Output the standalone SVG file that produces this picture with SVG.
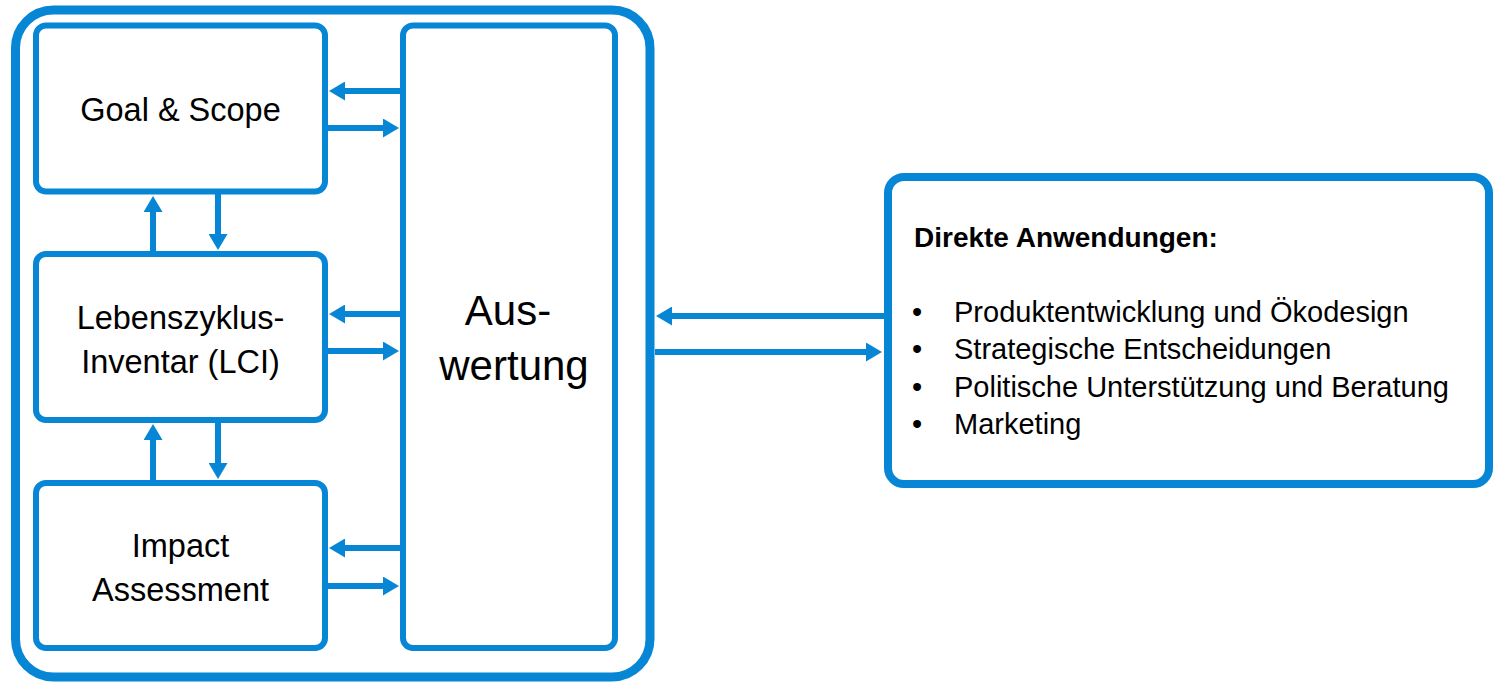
<svg xmlns="http://www.w3.org/2000/svg" width="1493" height="682" viewBox="0 0 1493 682">
<style>
.box{fill:#fff;stroke:#0786D5;stroke-width:6}
.outer{fill:none;stroke:#0786D5;stroke-width:9}
.rbox{fill:#fff;stroke:#0786D5;stroke-width:8}
.con{stroke:#0786D5;stroke-width:6;fill:none;marker-end:url(#ah)}
.t{font-family:"Liberation Sans",Arial,sans-serif;fill:#000}
.m{text-anchor:middle;font-size:32.5px}
.big{text-anchor:middle;font-size:42px}
.h{font-size:28px;font-weight:bold}
.b{font-size:29px}
</style>
<defs>
<marker id="ah" markerUnits="userSpaceOnUse" markerWidth="16" markerHeight="19" refX="1" refY="9.5" orient="auto" viewBox="0 0 16 19">
<path d="M0,0 L16,9.5 L0,19 Z" fill="#0786D5"/>
</marker>
</defs>
<rect id="frame" class="outer" x="15.5" y="10" width="634.5" height="667" rx="38"/>
<g id="goal"><rect class="box" x="36" y="25.5" width="289" height="166" rx="10"/>
<text class="t m" x="180.5" y="121">Goal &amp; Scope</text></g>
<g id="lci"><rect class="box" x="36" y="254" width="289" height="166" rx="10"/>
<text class="t m" x="180.5" y="329">Lebenszyklus-</text>
<text class="t m" x="180.5" y="373">Inventar (LCI)</text></g>
<g id="impact"><rect class="box" x="36" y="483" width="289" height="165" rx="10"/>
<text class="t m" x="180.5" y="557">Impact</text>
<text class="t m" x="180.5" y="601">Assessment</text></g>
<g id="auswertung"><rect class="box" x="403" y="25.5" width="212" height="622.5" rx="10"/>
<text class="t big" x="508" y="325">Aus-</text>
<text class="t big" x="514" y="380">wertung</text></g>
<g id="anwendungen"><rect class="rbox" x="888" y="177" width="601" height="307" rx="16"/>
<text class="t h" x="914" y="247">Direkte Anwendungen:</text>
<g class="t b">
<text x="912" y="322">•</text><text x="954" y="322">Produktentwicklung und Ökodesign</text>
<text x="912" y="359">•</text><text x="954" y="359">Strategische Entscheidungen</text>
<text x="912" y="397">•</text><text x="954" y="397">Politische Unterstützung und Beratung</text>
<text x="912" y="434">•</text><text x="954" y="434">Marketing</text>
</g></g>
<g id="connectors">
<line class="con" x1="400" y1="91" x2="344" y2="91"/>
<line class="con" x1="328" y1="128" x2="384" y2="128"/>
<line class="con" x1="400" y1="314" x2="344" y2="314"/>
<line class="con" x1="328" y1="351" x2="384" y2="351"/>
<line class="con" x1="400" y1="548" x2="344" y2="548"/>
<line class="con" x1="328" y1="586" x2="384" y2="586"/>
<line class="con" x1="153" y1="251" x2="153" y2="211"/>
<line class="con" x1="218" y1="194" x2="218" y2="235"/>
<line class="con" x1="153" y1="480" x2="153" y2="439"/>
<line class="con" x1="218" y1="423" x2="218" y2="464"/>
<line class="con" x1="884" y1="316" x2="671" y2="316"/>
<line class="con" x1="655" y1="352" x2="867" y2="352"/>
</g>
</svg>
